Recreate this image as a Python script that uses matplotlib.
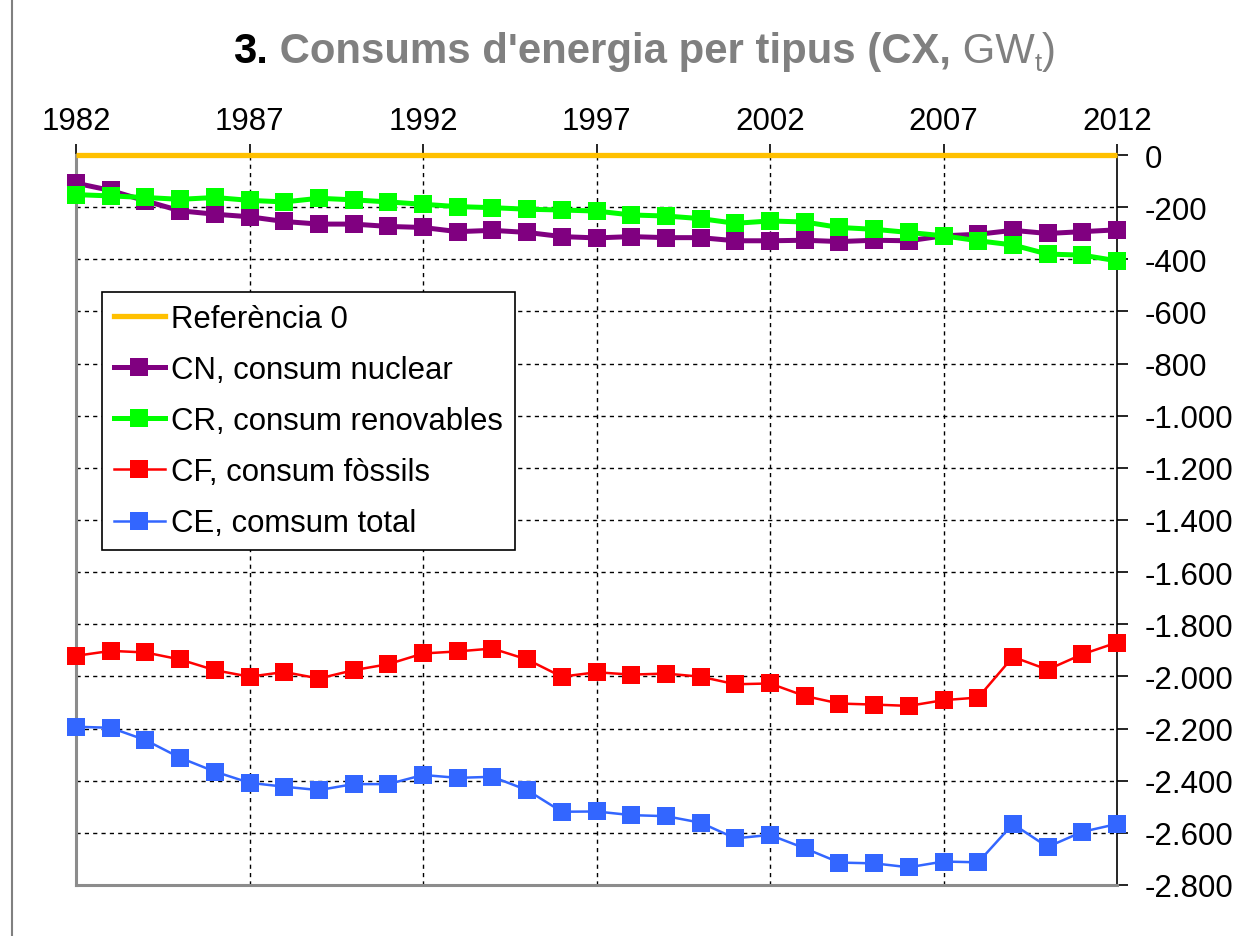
import matplotlib
matplotlib.use("Agg")
import matplotlib.pyplot as plt
from matplotlib import font_manager
from matplotlib.lines import Line2D

# ---------------- data ----------------
years = list(range(1982, 2013))
reference = [0] * len(years)
nuclear = [-108, -136, -176, -214, -227, -237, -255, -265, -265, -274, -278, -294, -289, -297, -313,
           -318, -313, -317, -317, -329, -329, -327, -332, -327, -329, -310, -304, -289, -301, -294, -287]
renewables = [-152, -157, -163, -170, -163, -174, -180, -166, -172, -180, -189, -198, -202, -208, -211,
              -215, -230, -234, -244, -262, -253, -257, -278, -285, -297, -310, -329, -345, -380, -384, -406]
fossils = [-1921, -1902, -1908, -1935, -1976, -2001, -1983, -2008, -1976, -1953, -1912, -1904, -1893, -1935, -2001,
           -1984, -1993, -1989, -2001, -2030, -2027, -2075, -2104, -2108, -2113, -2091, -2081, -1925, -1974, -1915, -1870]
total = [-2193, -2197, -2244, -2312, -2365, -2408, -2423, -2436, -2413, -2413, -2378, -2389, -2385, -2436, -2519,
         -2518, -2532, -2536, -2561, -2621, -2608, -2659, -2714, -2717, -2732, -2710, -2713, -2566, -2654, -2596, -2566]

labels = ["Referència 0", "CN, consum nuclear", "CR, consum renovables", "CF, consum fòssils", "CE, comsum total"]
xticks = [1982, 1987, 1992, 1997, 2002, 2007, 2012]
yticks = list(range(0, -2801, -200))

# ---------------- style ----------------
plt.rcParams['font.family'] = ['Liberation Sans', 'DejaVu Sans']
plt.rcParams['lines.scale_dashes'] = False
names = {f.name for f in font_manager.fontManager.ttflist}
title_family = ['Liberation Sans Narrow', 'Liberation Sans'] if 'Liberation Sans Narrow' in names else ['Liberation Sans']

W, H = 1241, 937
fig = plt.figure(figsize=(W / 100, H / 100), dpi=100)
fig.patch.set_facecolor('white')

x0, x1 = 76, 1117
y0, y1 = 156, 886
ax = fig.add_axes([x0 / W, 1 - y1 / H, (x1 - x0) / W, (y1 - y0) / H])
ax.set_xlim(1982, 2012)
ax.set_ylim(-2800, 0)

# grid
for yv in yticks[1:-1]:
    ax.axhline(yv, color='black', lw=1.0, ls=(0, (3, 3)), zorder=1)
for xv in xticks[1:-1]:
    ax.axvline(xv, color='black', lw=1.0, ls=(0, (3, 3)), zorder=1)

ms = 13
ax.plot(years, reference, color='#FFC000', lw=3.8, zorder=3, solid_capstyle='butt', clip_on=False)
ax.plot(years, nuclear, color='#800080', lw=3.6, marker='s', ms=ms, mew=0, zorder=4, clip_on=False)
ax.plot(years, renewables, color='#00FF00', lw=3.6, marker='s', ms=ms, mew=0, zorder=5, clip_on=False)
ax.plot(years, fossils, color='#FF0000', lw=1.8, marker='s', ms=ms, mew=0, zorder=4, clip_on=False)
ax.plot(years, total, color='#3366FF', lw=1.8, marker='s', ms=ms, mew=0, zorder=4, clip_on=False)

# spines
ax.spines['left'].set_color('#8C8C8C')
ax.spines['left'].set_linewidth(2.2)
ax.spines['bottom'].set_color('#8C8C8C')
ax.spines['bottom'].set_linewidth(2.2)
ax.spines['top'].set_color('#8C8C8C')
ax.spines['top'].set_linewidth(1.0)
ax.spines['right'].set_color('black')
ax.spines['right'].set_linewidth(1.2)

# ticks
ax.xaxis.tick_top()
ax.set_xticks(xticks)
ax.set_xticklabels([str(x) for x in xticks])
ax.tick_params(axis='x', direction='out', length=8, width=1.2, color='black', labelsize=22.5, pad=6)
ax.yaxis.tick_right()
ax.set_yticks(yticks)
ax.set_yticklabels([f"{v:,}".replace(',', '.') for v in yticks])
ax.tick_params(axis='y', direction='out', length=8, width=1.2, color='black', labelsize=22.5, pad=12)
for lab in ax.get_yticklabels():
    lab.set_horizontalalignment('left')

# legend
handles = [
    Line2D([], [], color='#FFC000', lw=3.8),
    Line2D([], [], color='#800080', lw=3.6, marker='s', ms=ms, mew=0),
    Line2D([], [], color='#00FF00', lw=3.6, marker='s', ms=ms, mew=0),
    Line2D([], [], color='#FF0000', lw=1.8, marker='s', ms=ms, mew=0),
    Line2D([], [], color='#3366FF', lw=1.8, marker='s', ms=ms, mew=0),
]
leg = fig.legend(handles, labels, loc='upper left', bbox_to_anchor=(102 / W, 1 - 293 / H),
                 bbox_transform=fig.transFigure, borderaxespad=0, fontsize=22.4,
                 frameon=True, fancybox=False, framealpha=1, edgecolor='black',
                 handlelength=1.64, handletextpad=0.2, labelspacing=0.68, borderpad=0.38,
                 numpoints=1)
leg.get_frame().set_linewidth(1.2)

# outer border line at left
fig.add_artist(Line2D([12 / W, 12 / W], [0, 1], color='#808080', lw=1.5, transform=fig.transFigure))

# title built from pieces
fig.canvas.draw()
renderer = fig.canvas.get_renderer()
gray = '#808080'
pieces = [
    ("3.", 'black', 'bold', 1.0, 0),
    (" Consums d'energia per tipus (CX,", gray, 'bold', 1.0, 0),
    (" GW", gray, 'normal', 1.0, 0),
    ("t", gray, 'normal', 0.62, -8),
    (")", gray, 'normal', 1.0, 0),
]
target_left, target_right = 233, 1055
base_y = 63
size = 30

def measure(sz):
    tot = 0
    for txt, col, wt, scl, dy in pieces:
        t = fig.text(0, 0, txt, fontsize=sz * scl, fontweight=wt, family=title_family)
        tot += t.get_window_extent(renderer).width
        t.remove()
    return tot

wtot = measure(size)
size = size * (target_right - target_left) / wtot
xpos = target_left
for txt, col, wt, scl, dy in pieces:
    t = fig.text(xpos / W, 1 - (base_y - dy) / H, txt, fontsize=size * scl, fontweight=wt,
                 color=col, family=title_family, ha='left', va='baseline')
    xpos += t.get_window_extent(renderer).width

fig.savefig('out.png', dpi=100, facecolor='white')
